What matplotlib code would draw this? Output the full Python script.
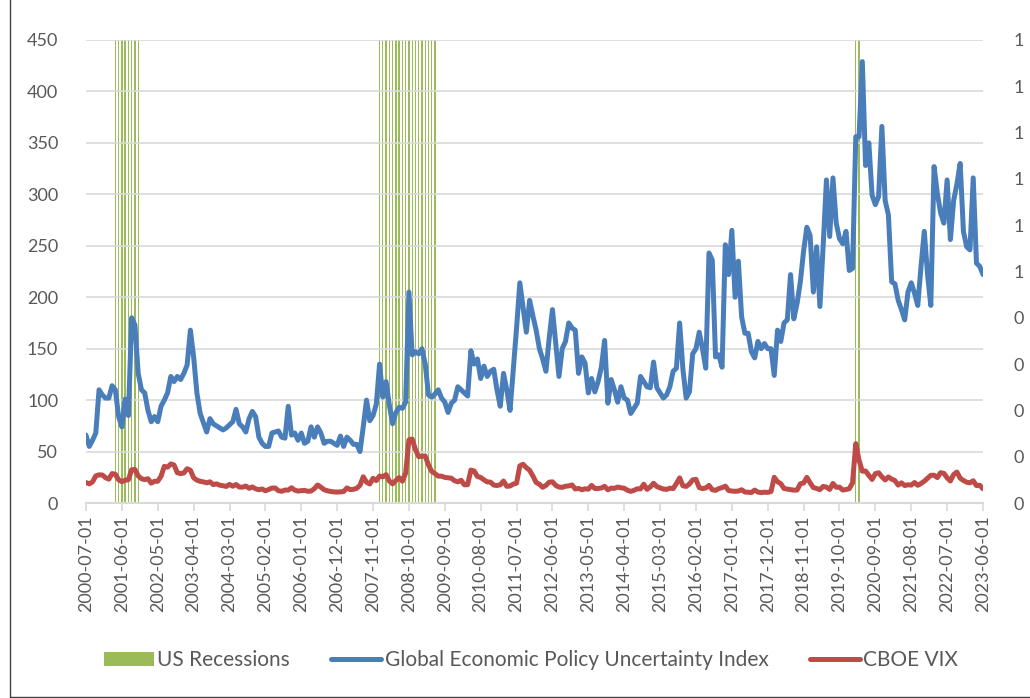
import numpy as np
import pandas as pd
import matplotlib
matplotlib.use("Agg")
from matplotlib import pyplot as plt
from matplotlib.patches import Rectangle, Patch
from matplotlib.lines import Line2D
from matplotlib.ticker import FuncFormatter, MultipleLocator

dates = pd.date_range("2000-07-01", "2023-06-01", freq="MS").strftime("%Y-%m-%d").tolist()

# Global Economic Policy Uncertainty Index, monthly from 2000-07
gepu = [66, 55, 61, 68, 110, 105,
        102, 102, 114, 110, 84, 74, 101, 85, 180, 173, 126, 110,
        107, 90, 79, 84, 79, 94, 100, 107, 123, 118, 123, 120,
        126, 134, 168, 142, 107, 87, 78, 69, 82, 77, 75, 73,
        71, 73, 76, 79, 91, 77, 74, 69, 82, 89, 84, 64,
        58, 55, 55, 68, 69, 70, 64, 63, 94, 66, 68, 61,
        68, 58, 60, 74, 64, 74, 68, 58, 60, 60, 58, 56,
        65, 55, 64, 61, 57, 57, 50, 74, 100, 80, 85, 96,
        135, 103, 118, 95, 77, 88, 93, 92, 98, 205, 144, 147,
        145, 150, 135, 105, 103, 106, 110, 102, 98, 88, 97, 100,
        113, 110, 107, 104, 148, 135, 140, 121, 133, 123, 128, 130,
        110, 94, 126, 110, 90, 130, 170, 214, 190, 166, 197, 182,
        168, 150, 140, 128, 160, 188, 155, 123, 150, 157, 175, 170,
        168, 126, 142, 136, 107, 121, 108, 118, 132, 158, 97, 120,
        110, 98, 113, 102, 100, 87, 92, 97, 123, 118, 113, 112,
        137, 112, 107, 102, 105, 113, 128, 131, 175, 130, 102, 108,
        145, 150, 166, 150, 131, 243, 236, 142, 144, 132, 251, 222,
        265, 200, 235, 181, 165, 165, 147, 141, 157, 150, 155, 150,
        150, 124, 168, 157, 175, 178, 222, 179, 194, 215, 245, 268,
        260, 205, 249, 191, 250, 314, 259, 316, 272, 257, 252, 264,
        226, 228, 356, 356, 429, 328, 350, 299, 290, 298, 366, 294,
        280, 215, 213, 197, 188, 178, 205, 214, 204, 192, 230, 264,
        222, 192, 327, 301, 282, 272, 314, 256, 294, 310, 330, 264,
        249, 246, 316, 233, 230, 222]

# CBOE VIX, monthly average from 2000-07
vix = [19.9, 18.6, 20.5, 26.3, 27.4, 27.2,
       24.6, 23.2, 28.6, 27.9, 22.5, 20.7, 22.1, 22.6, 32.3, 32.6, 26.4, 23.6,
       22.7, 23.6, 19.3, 21.1, 21.1, 26.0, 35.6, 34.8, 38.0, 36.9, 29.4, 28.6,
       29.2, 33.3, 31.9, 24.5, 22.2, 21.1, 20.5, 19.6, 20.6, 17.9, 18.6, 17.3,
       16.8, 16.1, 18.1, 16.3, 18.0, 15.5, 15.4, 16.5, 14.3, 15.6, 13.8, 12.9,
       13.6, 11.9, 13.1, 14.5, 14.6, 11.9, 11.4, 12.6, 12.5, 14.8, 12.5, 11.6,
       12.0, 12.2, 11.4, 11.6, 13.9, 17.5, 15.4, 12.9, 11.9, 11.2, 10.8, 10.6,
       10.8, 11.2, 14.6, 13.0, 13.3, 14.3, 17.2, 25.5, 20.2, 18.5, 24.0, 21.8,
       26.2, 25.4, 27.6, 21.4, 18.6, 21.9, 24.7, 21.2, 29.0, 61.4, 62.2, 52.0,
       45.0, 45.5, 45.6, 37.0, 30.6, 28.6, 26.1, 26.1, 24.9, 24.5, 24.1, 21.6,
       20.6, 22.1, 17.7, 17.8, 32.0, 31.1, 25.8, 24.8, 22.5, 20.5, 20.3, 17.4,
       17.0, 17.7, 21.3, 16.2, 16.5, 18.4, 19.3, 36.1, 37.6, 34.3, 31.8, 26.3,
       20.0, 18.2, 15.3, 17.1, 20.2, 20.6, 17.1, 15.5, 15.2, 16.3, 16.6, 17.6,
       13.6, 14.2, 12.9, 13.8, 13.4, 17.1, 14.1, 14.1, 14.6, 16.2, 12.8, 14.5,
       14.2, 15.5, 14.8, 14.3, 12.4, 11.3, 12.3, 13.8, 13.7, 18.2, 13.3, 15.6,
       19.2, 16.0, 14.7, 13.6, 13.2, 14.4, 14.0, 18.9, 24.4, 16.7, 16.1, 18.5,
       22.5, 23.0, 15.0, 14.0, 14.6, 17.1, 12.9, 12.3, 14.0, 14.9, 16.4, 12.2,
       11.6, 11.4, 11.6, 12.9, 10.7, 10.4, 10.2, 12.6, 10.6, 10.1, 10.5, 10.3,
       11.1, 25.0, 20.7, 18.8, 14.1, 13.5, 13.0, 12.5, 12.6, 18.7, 19.4, 24.9,
       19.6, 15.0, 14.1, 13.0, 16.1, 15.4, 13.2, 19.0, 15.3, 15.4, 12.6, 13.1,
       13.9, 19.6, 57.7, 41.5, 30.9, 31.1, 26.8, 22.9, 28.5, 29.4, 25.5, 22.4,
       25.3, 23.2, 21.8, 17.4, 19.6, 17.0, 17.7, 17.4, 19.9, 17.2, 19.0, 21.2,
       24.1, 26.9, 27.0, 24.7, 29.5, 28.8, 24.5, 21.4, 27.7, 30.1, 24.1, 21.9,
       20.2, 19.6, 21.6, 16.9, 17.2, 13.8]

recession_months = ["2001-04", "2001-05", "2001-06", "2001-07", "2001-08", "2001-09",
                    "2001-10", "2001-11",
                    "2008-01", "2008-02", "2008-03", "2008-04", "2008-05", "2008-06",
                    "2008-07", "2008-08", "2008-09", "2008-10", "2008-11", "2008-12",
                    "2009-01", "2009-02", "2009-03", "2009-04", "2009-05", "2009-06",
                    "2020-03", "2020-04"]

recession = [1 if d[:7] in recession_months else 0 for d in dates]
x = np.arange(len(dates))

gray = "#595959"
grid = "#d9d9d9"
plt.rcParams["font.family"] = ["Lato", "DejaVu Sans"]

fig = plt.figure(figsize=(10.3, 6.98), dpi=100)
ax = fig.add_axes([86 / 1030, 195 / 698, 897 / 1030, 463 / 698])
ax2 = ax.twinx()

ax2.bar(x, recession, width=0.4, color="#9BBB59", linewidth=0)
ax2.set_ylim(0, 1)
ax2.yaxis.set_major_locator(MultipleLocator(0.1))
ax2.yaxis.set_major_formatter(FuncFormatter(lambda v, p: str(int(v + 0.5 + 1e-9))))

ax.set_zorder(ax2.get_zorder() + 1)
ax.patch.set_visible(False)

ax.plot(x, gepu, color="#4A7EBB", lw=3.6, solid_joinstyle="round", solid_capstyle="round")
ax.plot(x, vix, color="#BE4B48", lw=3.6, solid_joinstyle="round", solid_capstyle="round")

ax.set_xlim(0, len(dates) - 1)
ax2.set_xlim(0, len(dates) - 1)
ax.set_ylim(0, 450)
ax.yaxis.set_major_locator(MultipleLocator(50))
ax.grid(axis="y", color=grid, lw=1.2)
ax.set_axisbelow(True)

ax.set_xticks(x[::11])
ax.set_xticklabels(dates[::11], rotation=90)

for a in (ax, ax2):
    for s in a.spines.values():
        s.set_visible(False)
    a.tick_params(axis="y", length=0, labelsize=13, labelcolor=gray)
ax.spines["bottom"].set_visible(True)
ax.spines["bottom"].set_color(grid)
ax.spines["bottom"].set_linewidth(1.5)
ax.tick_params(axis="x", length=6, color=grid, width=1.2, labelsize=13, labelcolor=gray, pad=3)
ax.tick_params(axis="y", pad=20)
ax2.tick_params(axis="y", pad=22)

handles = [Patch(facecolor="#9BBB59", edgecolor="none"),
           Line2D([], [], color="#4A7EBB", lw=3.6, solid_capstyle="round"),
           Line2D([], [], color="#BE4B48", lw=3.6, solid_capstyle="round")]
labels = ["US Recessions", "Global Economic Policy Uncertainty Index", "CBOE VIX"]
fig.legend(handles, labels, loc="center", bbox_to_anchor=(0.5155, 0.054), ncol=3, frameon=False,
           fontsize=15, labelcolor=gray, handlelength=2.4, handleheight=0.7,
           handletextpad=0.15, columnspacing=2.0)

fig.add_artist(Rectangle((10 / 1030, 1 / 698), 1.5, 1.5, transform=fig.transFigure,
                         fill=False, edgecolor="#404040", lw=1))

fig.savefig("out.png", dpi=100)
